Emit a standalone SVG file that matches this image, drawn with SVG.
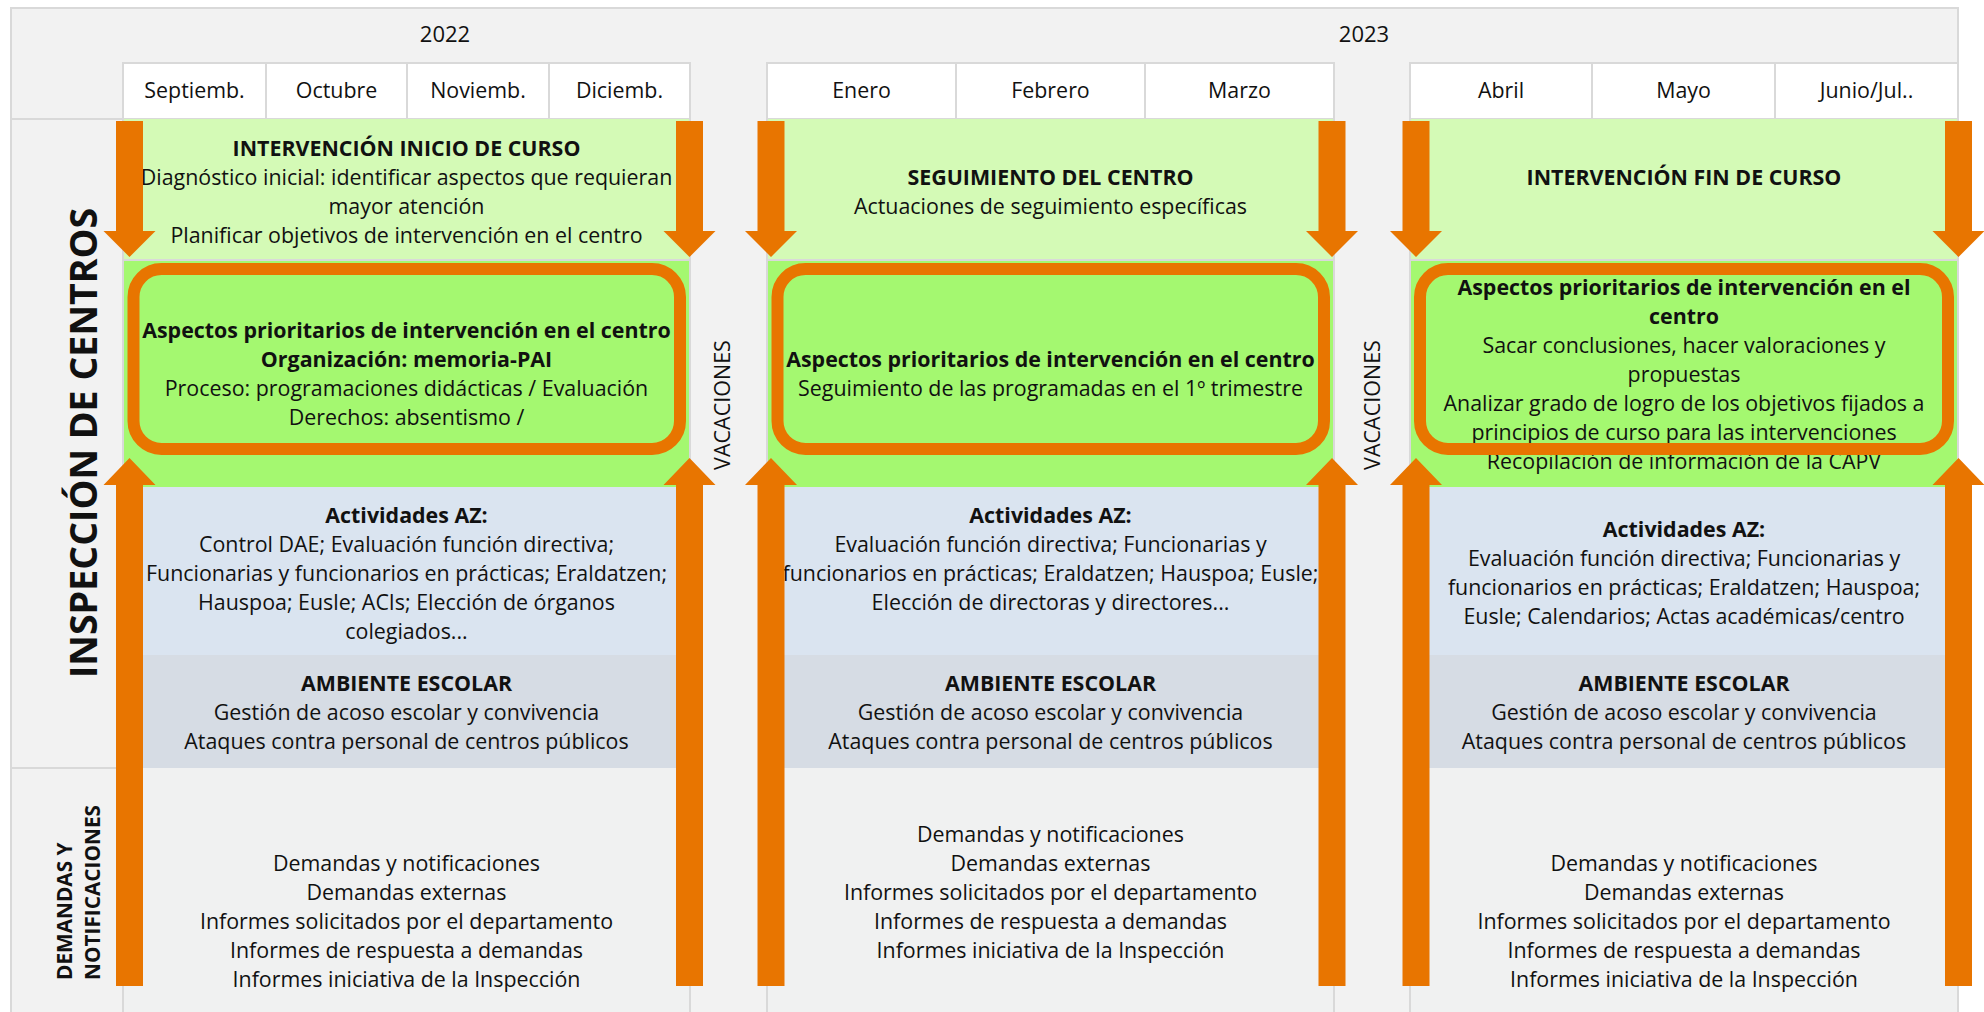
<svg xmlns="http://www.w3.org/2000/svg" xmlns:xlink="http://www.w3.org/1999/xlink" width="1984" height="1012" viewBox="0 0 1984 1012">
<style>
text{font-family:"Open Sans","Liberation Sans",sans-serif;fill:#111;font-size:21.4px;text-anchor:middle}
.b{font-weight:bold}
.hdr{fill:#f2f2f2;stroke:#d9d9d9;stroke-width:2}
.cell{fill:#fff;stroke:#d9d9d9;stroke-width:2}
.lg{fill:#d4fab6}
.bg{fill:#a4f870}
.bl{fill:#dae4f0}
.gr{fill:#d6dce4}
.bt{fill:#f0f1f1}
.edge{stroke:#d9d9d9;stroke-width:2;fill:none}
.frame{fill:none;stroke:#e87500;stroke-width:12}
.arr{fill:#e87500}
</style>
<defs>
<path id="down" d="M-13.5,121 H13.5 V231 H26 L0,257 L-26,231 H-13.5 Z"/>
<path id="up" d="M0,458 L26,485 H13.5 V986 H-13.5 V485 H-26 Z"/>
</defs>
<rect x="0" y="0" width="1984" height="1012" fill="#fff"/>
<rect class="hdr" x="11" y="8" width="1947" height="1010"/>
<line class="edge" x1="11" y1="119" x2="123" y2="119"/>
<line class="edge" x1="11" y1="768" x2="123" y2="768"/>

<g id="header">
<text x="445" y="42" style="font-size:22px">2022</text>
<text x="1364" y="42" style="font-size:22px">2023</text>
<g id="m-sep"><rect class="cell" x="123" y="63" width="143" height="56"/><text x="194.5" y="98">Septiemb.</text></g>
<g id="m-oct"><rect class="cell" x="266" y="63" width="141" height="56"/><text x="336.5" y="98">Octubre</text></g>
<g id="m-nov"><rect class="cell" x="407" y="63" width="142" height="56"/><text x="478" y="98">Noviemb.</text></g>
<g id="m-dic"><rect class="cell" x="549" y="63" width="141" height="56"/><text x="619.5" y="98">Diciemb.</text></g>
<g id="m-ene"><rect class="cell" x="767" y="63" width="189" height="56"/><text x="861.5" y="98">Enero</text></g>
<g id="m-feb"><rect class="cell" x="956" y="63" width="189" height="56"/><text x="1050.5" y="98">Febrero</text></g>
<g id="m-mar"><rect class="cell" x="1145" y="63" width="189" height="56"/><text x="1239.5" y="98">Marzo</text></g>
<g id="m-abr"><rect class="cell" x="1410" y="63" width="182" height="56"/><text x="1501" y="98">Abril</text></g>
<g id="m-may"><rect class="cell" x="1592" y="63" width="183" height="56"/><text x="1683.5" y="98">Mayo</text></g>
<g id="m-jun"><rect class="cell" x="1775" y="63" width="183" height="56"/><text x="1866.5" y="98">Junio/Jul..</text></g>
</g>

<g id="labels">
<text class="b" transform="translate(83.5,443) rotate(-90)" y="13.5" style="font-size:37.6px">INSPECCIÓN DE CENTROS</text>
<g transform="translate(0,980) rotate(-90)">
<text class="b" x="0" y="72" style="text-anchor:start;font-size:20.8px">DEMANDAS Y</text>
<text class="b" x="0" y="100" style="text-anchor:start;font-size:20.8px">NOTIFICACIONES</text>
</g>
<text transform="translate(722,405) rotate(-90)" y="7.5" style="font-size:21.5px">VACACIONES</text>
<text transform="translate(1372,405) rotate(-90)" y="7.5" style="font-size:21.5px">VACACIONES</text>
</g>

<g id="col1">
<rect class="lg" x="123" y="119" width="567" height="141"/>
<rect class="bg" x="123" y="261" width="567" height="226"/>
<rect class="bl" x="123" y="487" width="567" height="168"/>
<rect class="gr" x="123" y="655" width="567" height="113"/>
<rect class="bt" x="123" y="768" width="567" height="244"/>
<line class="edge" x1="123" y1="260" x2="690" y2="260"/>
<line class="edge" x1="123" y1="119" x2="123" y2="1012"/>
<line class="edge" x1="690" y1="119" x2="690" y2="1012"/>
<g id="c1-inicio">
<text class="b" x="406.5" y="156">INTERVENCIÓN INICIO DE CURSO</text>
<text x="406.5" y="185">Diagnóstico inicial: identificar aspectos que requieran</text>
<text x="406.5" y="214">mayor atención</text>
<text x="406.5" y="243">Planificar objetivos de intervención en el centro</text>
</g>
<g id="c1-aspectos">
<rect class="frame" x="133.5" y="269" width="546.5" height="180" rx="28"/>
<text class="b" x="406.5" y="338">Aspectos prioritarios de intervención en el centro</text>
<text class="b" x="406.5" y="367">Organización: memoria-PAI</text>
<text x="406.5" y="396">Proceso: programaciones didácticas / Evaluación</text>
<text x="406.5" y="425">Derechos: absentismo /</text>
</g>
<g id="c1-az">
<text class="b" x="406.5" y="523">Actividades AZ:</text>
<text x="406.5" y="552">Control DAE; Evaluación función directiva;</text>
<text x="406.5" y="581">Funcionarias y funcionarios en prácticas; Eraldatzen;</text>
<text x="406.5" y="610">Hauspoa; Eusle; ACIs; Elección de órganos</text>
<text x="406.5" y="639">colegiados...</text>
</g>
<g id="c1-ambiente">
<text class="b" x="406.5" y="691">AMBIENTE ESCOLAR</text>
<text x="406.5" y="720">Gestión de acoso escolar y convivencia</text>
<text x="406.5" y="749">Ataques contra personal de centros públicos</text>
</g>
<g id="c1-demandas">
<text x="406.5" y="871">Demandas y notificaciones</text>
<text x="406.5" y="900">Demandas externas</text>
<text x="406.5" y="929">Informes solicitados por el departamento</text>
<text x="406.5" y="958">Informes de respuesta a demandas</text>
<text x="406.5" y="987">Informes iniciativa de la Inspección</text>
</g>
</g>

<g id="col2">
<rect class="lg" x="767" y="119" width="567" height="141"/>
<rect class="bg" x="767" y="261" width="567" height="226"/>
<rect class="bl" x="767" y="487" width="567" height="168"/>
<rect class="gr" x="767" y="655" width="567" height="113"/>
<rect class="bt" x="767" y="768" width="567" height="244"/>
<line class="edge" x1="767" y1="260" x2="1334" y2="260"/>
<line class="edge" x1="767" y1="119" x2="767" y2="1012"/>
<line class="edge" x1="1334" y1="119" x2="1334" y2="1012"/>
<g id="c2-seguimiento">
<text class="b" x="1050.5" y="185">SEGUIMIENTO DEL CENTRO</text>
<text x="1050.5" y="214">Actuaciones de seguimiento específicas</text>
</g>
<g id="c2-aspectos">
<rect class="frame" x="777.5" y="269" width="546.5" height="180" rx="28"/>
<text class="b" x="1050.5" y="367">Aspectos prioritarios de intervención en el centro</text>
<text x="1050.5" y="396">Seguimiento de las programadas en el 1º trimestre</text>
</g>
<g id="c2-az">
<text class="b" x="1050.5" y="523">Actividades AZ:</text>
<text x="1050.5" y="552">Evaluación función directiva; Funcionarias y</text>
<text x="1050.5" y="581">funcionarios en prácticas; Eraldatzen; Hauspoa; Eusle;</text>
<text x="1050.5" y="610">Elección de directoras y directores...</text>
</g>
<g id="c2-ambiente">
<text class="b" x="1050.5" y="691">AMBIENTE ESCOLAR</text>
<text x="1050.5" y="720">Gestión de acoso escolar y convivencia</text>
<text x="1050.5" y="749">Ataques contra personal de centros públicos</text>
</g>
<g id="c2-demandas">
<text x="1050.5" y="842">Demandas y notificaciones</text>
<text x="1050.5" y="871">Demandas externas</text>
<text x="1050.5" y="900">Informes solicitados por el departamento</text>
<text x="1050.5" y="929">Informes de respuesta a demandas</text>
<text x="1050.5" y="958">Informes iniciativa de la Inspección</text>
</g>
</g>

<g id="col3">
<rect class="lg" x="1410" y="119" width="548" height="141"/>
<rect class="bg" x="1410" y="261" width="548" height="226"/>
<rect class="bl" x="1410" y="487" width="548" height="168"/>
<rect class="gr" x="1410" y="655" width="548" height="113"/>
<rect class="bt" x="1410" y="768" width="548" height="244"/>
<line class="edge" x1="1410" y1="260" x2="1958" y2="260"/>
<line class="edge" x1="1410" y1="119" x2="1410" y2="1012"/>
<line class="edge" x1="1958" y1="119" x2="1958" y2="1012"/>
<g id="c3-fin">
<text class="b" x="1684" y="185">INTERVENCIÓN FIN DE CURSO</text>
</g>
<g id="c3-aspectos">
<text class="b" x="1684" y="295">Aspectos prioritarios de intervención en el</text>
<text class="b" x="1684" y="324">centro</text>
<text x="1684" y="353">Sacar conclusiones, hacer valoraciones y</text>
<text x="1684" y="382">propuestas</text>
<text x="1684" y="411">Analizar grado de logro de los objetivos fijados a</text>
<text x="1684" y="440">principios de curso para las intervenciones</text>
<text x="1684" y="469">Recopilación de información de la CAPV</text>
<rect class="frame" x="1420" y="269" width="528" height="180" rx="28"/>
</g>
<g id="c3-az">
<text class="b" x="1684" y="537">Actividades AZ:</text>
<text x="1684" y="566">Evaluación función directiva; Funcionarias y</text>
<text x="1684" y="595">funcionarios en prácticas; Eraldatzen; Hauspoa;</text>
<text x="1684" y="624">Eusle; Calendarios; Actas académicas/centro</text>
</g>
<g id="c3-ambiente">
<text class="b" x="1684" y="691">AMBIENTE ESCOLAR</text>
<text x="1684" y="720">Gestión de acoso escolar y convivencia</text>
<text x="1684" y="749">Ataques contra personal de centros públicos</text>
</g>
<g id="c3-demandas">
<text x="1684" y="871">Demandas y notificaciones</text>
<text x="1684" y="900">Demandas externas</text>
<text x="1684" y="929">Informes solicitados por el departamento</text>
<text x="1684" y="958">Informes de respuesta a demandas</text>
<text x="1684" y="987">Informes iniciativa de la Inspección</text>
</g>
</g>

<g id="connectors" class="arr">
<use xlink:href="#down" href="#down" transform="translate(129.5,0)"/>
<use xlink:href="#up" href="#up" transform="translate(129.5,0)"/>
<use xlink:href="#down" href="#down" transform="translate(689.5,0)"/>
<use xlink:href="#up" href="#up" transform="translate(689.5,0)"/>
<use xlink:href="#down" href="#down" transform="translate(771,0)"/>
<use xlink:href="#up" href="#up" transform="translate(771,0)"/>
<use xlink:href="#down" href="#down" transform="translate(1332,0)"/>
<use xlink:href="#up" href="#up" transform="translate(1332,0)"/>
<use xlink:href="#down" href="#down" transform="translate(1416,0)"/>
<use xlink:href="#up" href="#up" transform="translate(1416,0)"/>
<use xlink:href="#down" href="#down" transform="translate(1958.5,0)"/>
<use xlink:href="#up" href="#up" transform="translate(1958.5,0)"/>
</g>
</svg>
